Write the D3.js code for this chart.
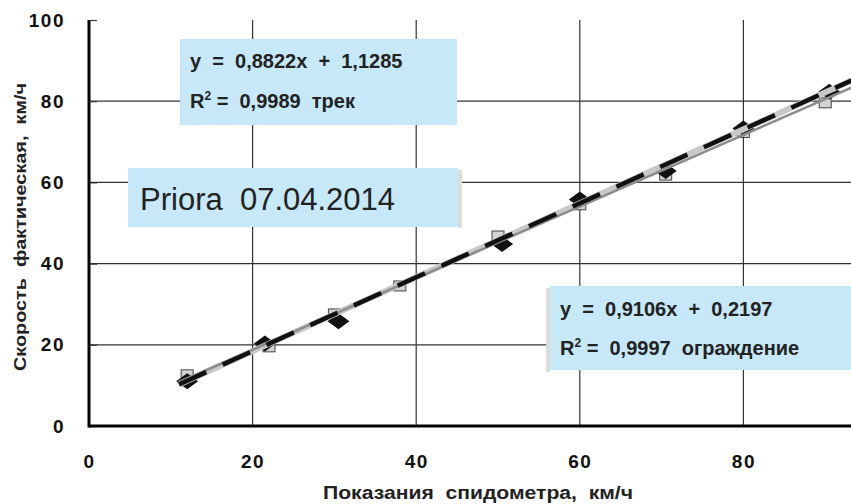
<!DOCTYPE html>
<html>
<head>
<meta charset="utf-8">
<script src="https://cdn.jsdelivr.net/npm/d3@7"></script>
<style>
  body { margin: 0; background: #fff; }
  svg { display: block; font-family: "Liberation Sans", Arial, sans-serif; }
  text { white-space: pre; }
</style>
</head>
<body>
<div id="chart"></div>
<script>
// ограждение (black diamonds)
var fenceX = [12, 21.5, 30.5, 50.5, 60, 70.5, 80, 90.5];
var fenceY = [11, 20.3, 25.8, 44.8, 55.8, 62.8, 73.3, 82.3];
// трек (grey squares)
var trackX = [12, 22, 30, 38, 50, 60, 70.5, 80, 90];
var trackY = [12.6, 19.5, 27.6, 34.5, 46.8, 54.5, 61.8, 72.3, 79.6];
// trend lines
var fenceTrend = { k: 0.9106, b: 0.2197 };
var trackTrend = { k: 0.8822, b: 1.1285 };
var xTicks = [0, 20, 40, 60, 80];
var yTicks = [0, 20, 40, 60, 80, 100];

var width = 851, height = 504;
var plotLeft = 89, plotBottom = 426, plotTop = 20;

var svg = d3.select("#chart")
	.append("svg")
	.attr("width", width)
	.attr("height", height);

var x = d3.scaleLinear().domain([0, 100]).range([plotLeft, 907]);
var y = d3.scaleLinear().domain([0, 100]).range([plotBottom, plotTop]);

svg.append("clipPath").attr("id", "plot")
	.append("rect")
	.attr("x", plotLeft).attr("y", 0)
	.attr("width", width - plotLeft).attr("height", plotBottom);

// gridlines
svg.append("g").selectAll("line")
	.data(yTicks.filter(function (d) { return d > 0 && d < 100; }))
	.enter().append("line")
	.attr("x1", plotLeft).attr("x2", width)
	.attr("y1", function (d) { return y(d); })
	.attr("y2", function (d) { return y(d); })
	.attr("stroke", "#333").attr("stroke-width", 1.2);

svg.append("g").selectAll("line")
	.data(xTicks.filter(function (d) { return d > 0; }))
	.enter().append("line")
	.attr("x1", function (d) { return x(d); })
	.attr("x2", function (d) { return x(d); })
	.attr("y1", plotTop).attr("y2", plotBottom)
	.attr("stroke", "#333").attr("stroke-width", 1.2);

// axes
var yAxis = svg.append("g")
	.attr("transform", "translate(" + plotLeft + ",0)")
	.call(d3.axisLeft(y).tickValues(yTicks).tickSize(-8).tickPadding(24));
var xAxis = svg.append("g")
	.attr("transform", "translate(0," + plotBottom + ")")
	.call(d3.axisBottom(x).tickValues(xTicks).tickSize(0).tickPadding(29));

[xAxis, yAxis].forEach(function (a) {
	a.select(".domain").attr("stroke", "#000").attr("stroke-width", 3);
	a.selectAll(".tick line").attr("stroke", "#333").attr("stroke-width", 1.2);
	a.selectAll(".tick text")
		.attr("font-family", "'Liberation Sans', Arial, sans-serif")
		.attr("font-size", 19)
		.attr("font-weight", "bold")
		.attr("letter-spacing", 1.5)
		.attr("fill", "#111");
});
xAxis.select(".domain").attr("d", "M" + plotLeft + ",0H" + width);
yAxis.select(".domain").attr("d", "M0," + plotTop + "V" + (plotBottom + 1.5));

// markers
var plotArea = svg.append("g").attr("clip-path", "url(#plot)");

var fencePts = fenceX.map(function (d, i) { return [d, fenceY[i]]; });
var trackPts = trackX.map(function (d, i) { return [d, trackY[i]]; });

plotArea.selectAll(".sq")
	.data(trackPts)
	.enter().append("rect")
	.attr("class", "sq")
	.attr("x", function (d) { return x(d[0]) - 6; })
	.attr("y", function (d) { return y(d[1]) - 5; })
	.attr("width", 12).attr("height", 10)
	.attr("fill", "#d4d4d4")
	.attr("stroke", "#444").attr("stroke-width", 1);

plotArea.selectAll(".dia")
	.data(fencePts)
	.enter().append("path")
	.attr("class", "dia")
	.attr("d", function (d) {
		var cx = x(d[0]), cy = y(d[1]);
		return "M" + (cx - 11) + "," + cy + "L" + cx + "," + (cy - 8) +
			"L" + (cx + 11) + "," + cy + "L" + cx + "," + (cy + 8) + "Z";
	})
	.attr("fill", "#111");

var line = d3.line()
	.x(function (d) { return x(d[0]); })
	.y(function (d) { return y(d[1]); });

function trend(t) {
	return [11, 100].map(function (v) { return [v, t.k * v + t.b]; });
}

// light band under the dashed trend
plotArea.append("path")
	.datum(trend(fenceTrend))
	.attr("d", line)
	.attr("fill", "none")
	.attr("stroke", "#c8c8c8")
	.attr("stroke-width", 6);

plotArea.append("path")
	.datum(trend(trackTrend))
	.attr("d", line)
	.attr("fill", "none")
	.attr("stroke", "#8c8c8c")
	.attr("stroke-width", 2.5);

plotArea.append("path")
	.datum(trend(fenceTrend))
	.attr("d", line)
	.attr("fill", "none")
	.attr("stroke", "#111")
	.attr("stroke-width", 4.5)
	.attr("stroke-dasharray", "30,18");

// text boxes
var boxFill = "#c6e8f8";

svg.append("rect")
	.attr("x", 180).attr("y", 39).attr("width", 277).attr("height", 86)
	.attr("fill", boxFill);
svg.append("text").attr("x", 190).attr("y", 68)
	.attr("font-size", 20).attr("font-weight", "bold").attr("fill", "#222")
	.text("y  =  0,8822x  +  1,1285");
svg.append("text").attr("x", 190).attr("y", 108)
	.attr("font-size", 20).attr("font-weight", "bold").attr("fill", "#222")
	.html("R<tspan font-size='12' dy='-8'>2</tspan><tspan dy='8'> =  0,9989  трек</tspan>");

svg.append("rect")
	.attr("x", 458).attr("y", 170).attr("width", 4).attr("height", 58)
	.attr("fill", "#dcdcdc");
svg.append("rect")
	.attr("x", 128).attr("y", 168).attr("width", 330).attr("height", 59)
	.attr("fill", boxFill);
svg.append("text").attr("x", 140).attr("y", 210)
	.attr("font-size", 31).attr("fill", "#222")
	.text("Priora  07.04.2014");

svg.append("rect")
	.attr("x", 546).attr("y", 288).attr("width", 4).attr("height", 84)
	.attr("fill", "#dcdcdc");
svg.append("rect")
	.attr("x", 550).attr("y", 286).attr("width", 301).attr("height", 84)
	.attr("fill", boxFill);
svg.append("text").attr("x", 560).attr("y", 316)
	.attr("font-size", 20).attr("font-weight", "bold").attr("fill", "#222")
	.text("y  =  0,9106x  +  0,2197");
svg.append("text").attr("x", 560).attr("y", 355)
	.attr("font-size", 20).attr("font-weight", "bold").attr("fill", "#222")
	.html("R<tspan font-size='12' dy='-8'>2</tspan><tspan dy='8'> =  0,9997  ограждение</tspan>");

// axis titles
svg.append("text")
	.attr("x", 478).attr("y", 499)
	.attr("text-anchor", "middle")
	.attr("font-size", 18).attr("font-weight", "bold").attr("fill", "#222")
	.attr("textLength", 310).attr("lengthAdjust", "spacingAndGlyphs")
	.text("Показания  спидометра,  км/ч");

svg.append("text")
	.attr("transform", "translate(26,227) rotate(-90)")
	.attr("text-anchor", "middle")
	.attr("font-size", 17).attr("font-weight", "bold").attr("fill", "#222")
	.attr("textLength", 288).attr("lengthAdjust", "spacingAndGlyphs")
	.text("Скорость  фактическая,  км/ч");
</script>
</body>
</html>
